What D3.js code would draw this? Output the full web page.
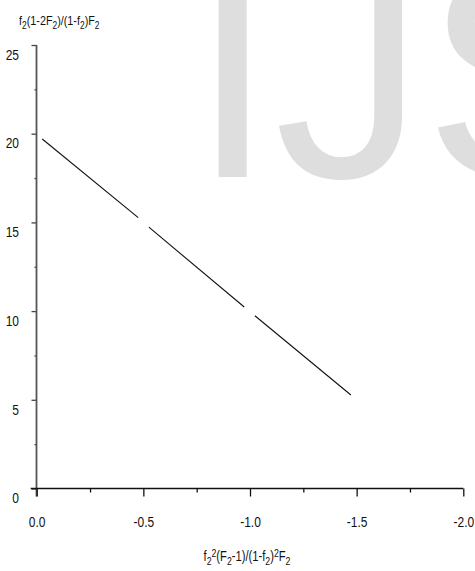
<!DOCTYPE html>
<html>
<head>
<meta charset="utf-8">
<script src="https://cdn.jsdelivr.net/npm/d3@7"></script>
<style>
  body { margin: 0; background: #fff; }
  text { font-family: "Liberation Sans", Arial, sans-serif; }
</style>
</head>
<body>
<div id="chart"></div>
<script>
// line, NaN marks the small breaks in the trace
let lineX = [-0.026, -0.476, NaN, -0.526, -0.973, NaN, -1.023, -1.473];
let lineY = [19.7, 15.27, NaN, 14.73, 10.23, NaN, 9.74, 5.27];
let xTicks = [0, -0.5, -1.0, -1.5, -2.0];
let xMinor = [-0.25, -0.75, -1.25, -1.75];
let yTicks = [0, 5, 10, 15, 20, 25];
let yMinor = [2.5, 7.5, 12.5, 17.5, 22.5];

let narrow = 0.8; // squeeze to mimic a narrow face
let width = 475, height = 571;
let chart = d3.select("#chart").append("svg")
  .attr("width", width).attr("height", height);

// watermark
chart.append("text")
  .text("IJS")
  .attr("x", 191).attr("y", 177)
  .style("font-size", "300px")
  .attr("fill", "#dedede");

let xscale = d3.scaleLinear().domain([0, -2]).range([36.7, 463.3]);
let yscale = d3.scaleLinear().domain([0, 25]).range([488.5, 45]);

// y axis
let yAxis = d3.axisLeft(yscale).tickValues(yTicks).tickSize(5).tickSizeOuter(0)
  .tickFormat(d3.format("d"));
let gy = chart.append("g").attr("transform", "translate(36.5,0)").call(yAxis);
gy.select(".domain").remove();
gy.selectAll("line").attr("stroke", "#444").attr("stroke-width", 1.3);
gy.selectAll("text").attr("x", -17.5 / narrow).attr("dy", "0.95em")
  .attr("transform", "scale(" + narrow + ",1)")
  .style("font-size", "15px").attr("fill", "#111");
chart.append("g").attr("transform", "translate(36.5,0)")
  .call(d3.axisLeft(yscale).tickValues(yMinor).tickSize(2).tickFormat(""))
  .call(g => g.select(".domain").remove())
  .selectAll("line").attr("stroke", "#444").attr("stroke-width", 1.3);
chart.append("line")
  .attr("x1", 36.5).attr("x2", 36.5)
  .attr("y1", yscale(25)).attr("y2", yscale(0) + 8)
  .attr("stroke", "#555").attr("stroke-width", 1.8);

// x axis
let xAxis = d3.axisBottom(xscale).tickValues(xTicks).tickSize(8).tickSizeOuter(0)
  .tickFormat(d => d === 0 ? "0.0" : d3.format(".1f")(d).replace("−", "-"));
let gx = chart.append("g").attr("transform", "translate(0," + yscale(0) + ")").call(xAxis);
gx.select(".domain").remove();
gx.selectAll("line").attr("stroke", "#111").attr("stroke-width", 1.3);
gx.selectAll("text").attr("y", 38.5).attr("dy", 0)
  .attr("transform", "scale(" + narrow + ",1)")
  .style("font-size", "15px").attr("fill", "#111");
chart.append("g").attr("transform", "translate(0," + yscale(0) + ")")
  .call(d3.axisBottom(xscale).tickValues(xMinor).tickSize(4).tickFormat(""))
  .call(g => g.select(".domain").remove())
  .selectAll("line").attr("stroke", "#111").attr("stroke-width", 1.3);
chart.append("line")
  .attr("x1", xscale(0) - 6).attr("x2", xscale(-2))
  .attr("y1", yscale(0)).attr("y2", yscale(0))
  .attr("stroke", "#111").attr("stroke-width", 1.6);

// data line
let pts = lineX.map((x, i) => [x, lineY[i]]);
let line = d3.line()
  .defined(d => !isNaN(d[0]))
  .x(d => xscale(d[0]))
  .y(d => yscale(d[1]));
chart.append("path")
  .datum(pts)
  .attr("d", line)
  .attr("fill", "none")
  .attr("stroke", "#111")
  .attr("stroke-width", 1.1);

// axis titles with sub/superscripts
function richText(x, y, parts, anchor, size) {
  let t = chart.append("text")
    .attr("transform", "translate(" + x + "," + y + ") scale(" + narrow + ",1)")
    .attr("text-anchor", anchor)
    .style("font-size", size + "px").attr("fill", "#111");
  parts.forEach(p => {
    let s = t.append("tspan").text(p[0]);
    if (p[1] === "sub") s.attr("baseline-shift", "-35%").style("font-size", (size * 0.78) + "px");
    if (p[1] === "sup") s.attr("baseline-shift", "45%").style("font-size", (size * 0.78) + "px");
  });
  return t;
}
richText(19, 25, [["f"], ["2", "sub"], ["(1-2F"], ["2", "sub"], [")/(1-f"], ["2", "sub"], [")F"], ["2", "sub"]], "start", 13.5);
richText(247, 561, [["f"], ["2", "sub"], ["2", "sup"], ["(F"], ["2", "sub"], ["-1)/(1-f"], ["2", "sub"], [")"], ["2", "sup"], ["F"], ["2", "sub"]], "middle", 14);
</script>
</body>
</html>
